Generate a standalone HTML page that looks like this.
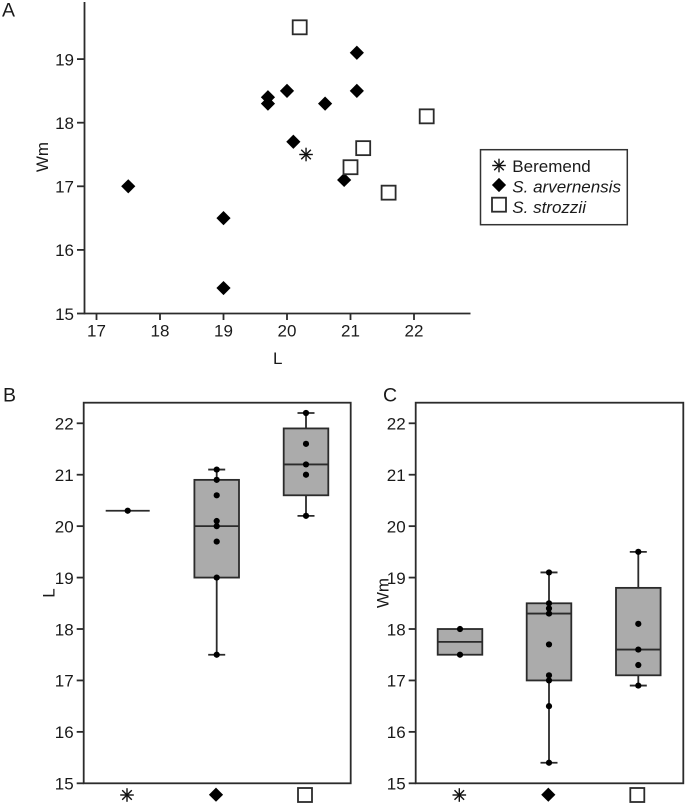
<!DOCTYPE html>
<html lang="en">
<head>
<meta charset="utf-8">
<title>Scatter and box plots of L and Wm</title>
<style>
html,body{margin:0;padding:0;background:#fff}
svg{display:block}
text{font-family:"Liberation Sans",Arial,sans-serif;font-size:17px;fill:#1a1a1a}
</style>
</head>
<body>
<svg id="fig" xmlns="http://www.w3.org/2000/svg" width="685" height="805" viewBox="0 0 685 805">
<text x="2" y="16.7" style="font-size:19.5px">A</text>
<text x="3" y="401.7" style="font-size:19.5px">B</text>
<text x="383" y="401.7" style="font-size:19.5px">C</text>
<text x="277.7" y="364" text-anchor="middle">L</text>
<text transform="translate(48 157) rotate(-90)" text-anchor="middle">Wm</text>
<text transform="translate(54.3 593) rotate(-90)" text-anchor="middle">L</text>
<text transform="translate(388.3 593) rotate(-90)" text-anchor="middle">Wm</text>
<g>
<rect x="480.5" y="149.7" width="146.8" height="75" fill="#fff" stroke="#333" stroke-width="1.5"/>
<text x="512.3" y="172">Beremend</text>
<text x="512.3" y="192.5" font-style="italic">S. arvernensis</text>
<text x="512.3" y="213" font-style="italic">S. strozzii</text>
</g>
</svg>
<script>
// Scatter data (panel A)
const scatterXTicks = [17, 18, 19, 20, 21, 22];
const scatterYTicks = [15, 16, 17, 18, 19];
const beremendL = [20.3];
const beremendWm = [17.5];
const arvernensisL = [17.5, 19, 19, 19.7, 19.7, 20, 20.1, 20.6, 20.9, 21.1, 21.1];
const arvernensisWm = [17, 16.5, 15.4, 18.4, 18.3, 18.5, 17.7, 18.3, 17.1, 19.1, 18.5];
const strozziiL = [20.2, 21, 21.2, 21.6, 22.2];
const strozziiWm = [19.5, 17.3, 17.6, 16.9, 18.1];

// Box plot data (panels B and C)
const boxYTicks = [15, 16, 17, 18, 19, 20, 21, 22];
const boxCategories = ['beremend', 's-arvernensis', 's-strozzii'];
const lPoints = [[20.3], [21.1, 20.9, 20.6, 20.1, 20, 19.7, 19, 17.5], [22.2, 21.6, 21.2, 21, 20.2]];
const lQ1 = [20.3, 19, 20.6];
const lMedian = [20.3, 20, 21.2];
const lQ3 = [20.3, 20.9, 21.9];
const lMin = [20.3, 17.5, 20.2];
const lMax = [20.3, 21.1, 22.2];
const wmPoints = [[18, 17.5], [19.1, 18.5, 18.4, 18.3, 17.7, 17.1, 17, 16.5, 15.4], [19.5, 18.1, 17.6, 17.3, 16.9]];
const wmQ1 = [17.5, 17, 17.1];
const wmMedian = [17.75, 18.3, 17.6];
const wmQ3 = [18, 18.5, 18.8];
const wmMin = [17.5, 15.4, 16.9];
const wmMax = [18, 19.1, 19.5];

const svg = document.getElementById('fig');
const INK = '#2b2b2b';
const LINE = 1.8;

function make(tag, attrs, parent) {
  const el = document.createElementNS('http://www.w3.org/2000/svg', tag);
  for (const k in attrs) el.setAttribute(k, attrs[k]);
  (parent || svg).appendChild(el);
  return el;
}
function line(x1, y1, x2, y2, name, w, parent) {
  const el = make('line', {x1, y1, x2, y2, stroke: INK, 'stroke-width': w || LINE}, parent);
  
  
  return el;
}
function label(x, y, str, anchor, name) {
  const el = make('text', {x, y, 'text-anchor': anchor});
  el.textContent = str;
  
  
  return el;
}
function marker(kind, cx, cy, name) {
  const g = make('g', {});
  
  
  if (kind === 'diamond') {
    make('polygon', {points: [cx, cy - 7.1, cx + 7.1, cy, cx, cy + 7.1, cx - 7.1, cy].join(' '), fill: '#000'}, g);
  } else if (kind === 'square') {
    make('rect', {x: cx - 7, y: cy - 7, width: 14, height: 14, fill: '#fff', stroke: INK, 'stroke-width': 1.8}, g);
  } else {
    const r = 6.8, d = 4.8;
    [[0, -r, 0, r], [-r, 0, r, 0], [-d, -d, d, d], [-d, d, d, -d]].forEach(s => {
      make('line', {x1: cx + s[0], y1: cy + s[1], x2: cx + s[2], y2: cy + s[3], stroke: '#111', 'stroke-width': 1.4}, g);
    });
  }
  return g;
}

// Panel A axes
const sx = v => 96.5 + (v - 17) * 63.5;
const sy = v => 313.5 - (v - 15) * 63.6;
line(84.5, 2, 84.5, 314.2, 'scatter-y-axis');
line(84, 313.5, 470.5, 313.5, 'scatter-x-axis');
scatterXTicks.forEach(t => {
  line(sx(t), 313.5, sx(t), 320, 'scatter-x-tick-' + t);
  label(sx(t), 336.5, String(t), 'middle', 'scatter-x-tick-label-' + t);
});
scatterYTicks.forEach(t => {
  line(77, sy(t), 84.5, sy(t), 'scatter-y-tick-' + t);
  label(74, sy(t) + 6.3, String(t), 'end', 'scatter-y-tick-label-' + t);
});
arvernensisL.forEach((v, i) => marker('diamond', sx(v), sy(arvernensisWm[i]), 'point-s-arvernensis'));
strozziiL.forEach((v, i) => marker('square', sx(v), sy(strozziiWm[i]), 'point-s-strozzii'));
beremendL.forEach((v, i) => marker('star', sx(v), sy(beremendWm[i]), 'point-beremend'));

// Legend markers
marker('star', 499, 165.5, 'legend-marker-beremend');
marker('diamond', 499, 185, 'legend-marker-s-arvernensis');
marker('square', 499, 204.7, 'legend-marker-s-strozzii');

// Box panels
const by = v => 783.3 - (v - 15) * 51.43;
function boxPanel(id, left, right, cats, pts, q1, med, q3, lo, hi) {
  const frame = make('rect', {x: left, y: 402.7, width: right - left, height: 380.6, fill: 'none', stroke: INK, 'stroke-width': LINE});
  
  
  boxYTicks.forEach(t => {
    line(left - 7, by(t), left, by(t), id + '-y-tick-' + t);
    label(left - 10, by(t) + 6.3, String(t), 'end', id + '-y-tick-label-' + t);
  });
  cats.forEach((cx, i) => {
    const name = id + '-' + boxCategories[i];
    const g = make('g', {});
    
    
    if (q1[i] === q3[i]) {
      line(cx - 22, by(med[i]), cx + 22, by(med[i]), name + '-median', LINE, g);
    } else {
      line(cx, by(lo[i]), cx, by(hi[i]), name + '-whisker', LINE, g);
      if (lo[i] < q1[i]) line(cx - 8.5, by(lo[i]), cx + 8.5, by(lo[i]), name + '-lower-cap', LINE, g);
      if (hi[i] > q3[i]) line(cx - 8.5, by(hi[i]), cx + 8.5, by(hi[i]), name + '-upper-cap', LINE, g);
      const box = make('rect', {x: cx - 22.3, y: by(q3[i]), width: 44.6, height: by(q1[i]) - by(q3[i]), fill: '#ababab', stroke: INK, 'stroke-width': LINE}, g);
      
      
      line(cx - 22.3, by(med[i]), cx + 22.3, by(med[i]), name + '-median', LINE, g);
    }
    pts[i].forEach(v => {
      const dot = make('circle', {cx, cy: by(v), r: 3.1, fill: '#000'}, g);
      
      
    });
  });
  marker('star', cats[0] - 0.7, 795, id + '-category-marker-beremend');
  marker('diamond', cats[1] - 0.7, 794.7, id + '-category-marker-s-arvernensis');
  marker('square', cats[2] - 1, 795, id + '-category-marker-s-strozzii');
}
boxPanel('box-l', 83.7, 350.7, [127.7, 216.7, 306], lPoints, lQ1, lMedian, lQ3, lMin, lMax);
boxPanel('box-wm', 415.7, 683.3, [460, 549, 638.3], wmPoints, wmQ1, wmMedian, wmQ3, wmMin, wmMax);
</script>
</body>
</html>
